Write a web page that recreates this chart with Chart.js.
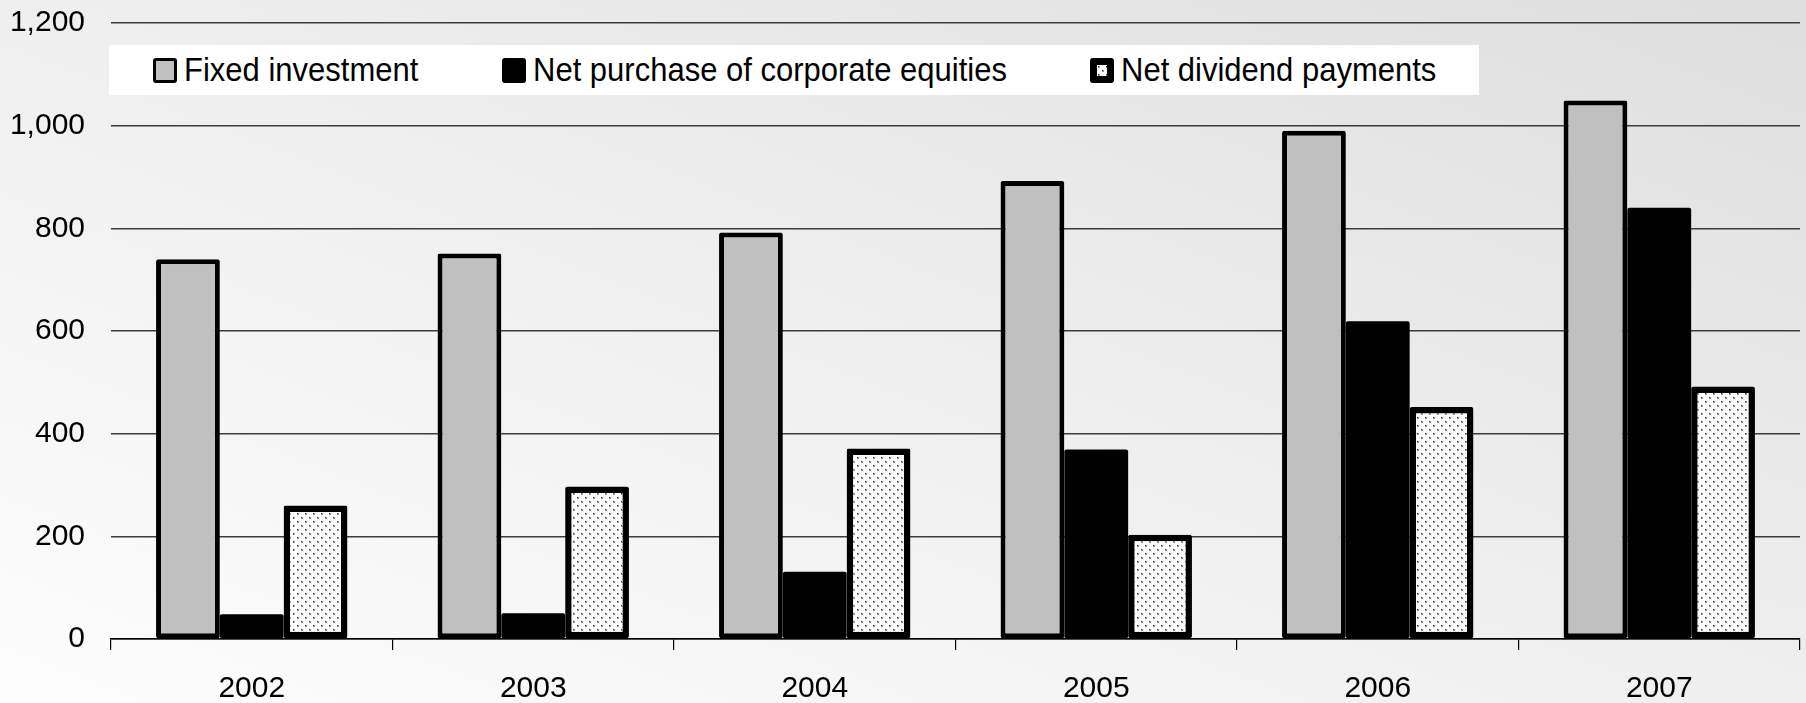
<!DOCTYPE html>
<html>
<head>
<meta charset="utf-8">
<title>Fixed investment vs equities and dividends</title>
<script src="https://cdn.jsdelivr.net/npm/chart.js@4.4.0/dist/chart.umd.min.js"></script>
<style>
    html, body { margin: 0; padding: 0; }
    body {
        width: 1806px; height: 703px; overflow: hidden;
        background: linear-gradient(to top right, #fdfdfd 0%, #efefef 50%, #dedede 100%);
        font-family: 'Liberation Sans', Arial, sans-serif;
    }
    #wrap { position: relative; width: 1806px; height: 703px; }
    #legend {
        position: absolute; left: 109px; top: 45px;
        width: 1370px; height: 50px; background: #fff;
    }
    .lg-item { position: absolute; top: 0; height: 50px; display: flex; align-items: center; }
    .lg-item:nth-child(1) { left: 44px; }
    .lg-item:nth-child(2) { left: 393px; }
    .lg-item:nth-child(3) { left: 981px; }
    .lg-box { width: 24px; height: 25px; box-sizing: border-box; border-radius: 3px; margin-right: 7px; }
    .lg-text { font-size: 31px; color: #000; display: inline-block; transform: scaleY(1.1); white-space: nowrap; }
</style>
</head>
<body>
<div id="wrap">
    <canvas id="chart"></canvas>
    <div id="legend"></div>
</div>
<script>
// ── Data ──
const years = ['2002', '2003', '2004', '2005', '2006', '2007'];
const seriesNames = ['Fixed investment', 'Net purchase of corporate equities', 'Net dividend payments'];
const fixedInvestment = [740, 751, 792, 892, 990, 1049];
const netEquityPurchase = [48, 50, 131, 369, 619, 840];
const netDividends = [260, 297, 371, 203, 452, 492];
const yMax = 1200;
const yStep = 200;

// ── Dotted fill pattern ──
function makeDotTile() {
    const c = document.createElement('canvas');
    c.width = 8; c.height = 8;
    const g = c.getContext('2d');
    g.fillStyle = '#ffffff';
    g.fillRect(0, 0, 8, 8);
    g.fillStyle = '#9a9a9a';
    g.fillRect(1, 1, 2, 2);
    g.fillRect(5, 5, 2, 2);
    g.fillStyle = '#303030';
    g.fillRect(1, 1, 1, 1);
    g.fillRect(5, 5, 1, 1);
    return c;
}
const dotTile = makeDotTile();
const dotPattern = document.getElementById('chart').getContext('2d').createPattern(dotTile, 'repeat');

const seriesStyles = [
    { bg: '#c0c0c0', border: '#000', width: 5 },
    { bg: '#000000', border: '#000', width: 0 },
    { bg: dotPattern, border: '#000', width: 6.5 },
];

// ── HTML legend ──
function buildLegend() {
    const lg = document.getElementById('legend');
    const swatches = [
        'background:#c0c0c0;border:3.5px solid #000;',
        'background:#000;',
        `background:url(${dotTile.toDataURL()}) repeat;border:7px solid #000;`,
    ];
    seriesNames.forEach((name, i) => {
        const item = document.createElement('div');
        item.className = 'lg-item';
        item.innerHTML = `<span class="lg-box" style="${swatches[i]}"></span><span class="lg-text">${name}</span>`;
        lg.appendChild(item);
    });
}

// ── Chart ──
const FONT = "'Liberation Sans', Arial, sans-serif";
Chart.defaults.font.family = FONT;
Chart.defaults.color = '#000';

const values = [fixedInvestment, netEquityPurchase, netDividends];
const ctx = document.getElementById('chart').getContext('2d');
document.getElementById('chart').parentElement.style.height = '703px';

new Chart(ctx, {
    type: 'bar',
    data: {
        labels: years,
        datasets: values.map((data, i) => ({
            label: seriesNames[i],
            data,
            backgroundColor: seriesStyles[i].bg,
            borderColor: seriesStyles[i].border,
            borderWidth: seriesStyles[i].width,
            borderSkipped: false,
            borderRadius: 2,
            categoryPercentage: 0.68,
            barPercentage: 1.0,
        }))
    },
    options: {
        responsive: true,
        maintainAspectRatio: false,
        animation: false,
        layout: { padding: { top: 23, right: 6, left: 0, bottom: 0 } },
        plugins: {
            legend: { display: false },
            tooltip: { enabled: false },
        },
        scales: {
            x: {
                afterFit: s => { s.height = 64; },
                border: { color: '#000', width: 1.5 },
                grid: {
                    drawOnChartArea: false,
                    drawTicks: true,
                    tickLength: 11,
                    color: '#000',
                    lineWidth: 1.2,
                },
                ticks: { font: { size: 30 }, padding: 21, color: '#000' },
            },
            y: {
                min: 0,
                max: yMax,
                afterFit: s => { s.width = 111; s.paddingTop = 0; },
                border: { display: false },
                grid: { drawTicks: false, color: '#3c3c3c', lineWidth: 1.5 },
                ticks: {
                    stepSize: yStep,
                    padding: 26,
                    font: { size: 30 },
                    color: '#000',
                    callback: v => v.toLocaleString('en-US'),
                },
            }
        }
    }
});

buildLegend();
</script>
</body>
</html>
